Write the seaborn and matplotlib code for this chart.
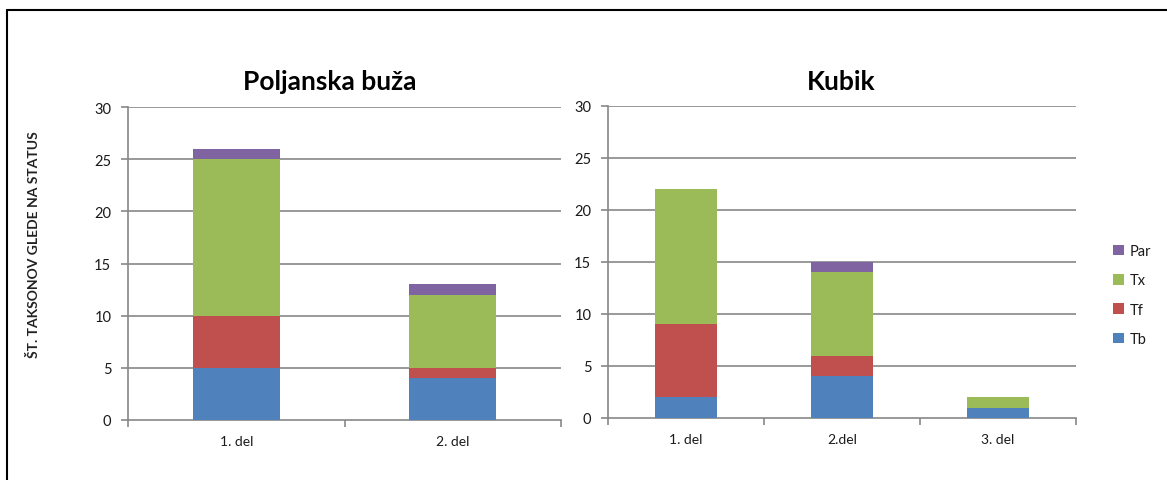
import matplotlib
matplotlib.use("Agg")
import matplotlib.pyplot as plt
import seaborn as sns
import pandas as pd
import numpy as np
from matplotlib.lines import Line2D
from matplotlib.patches import Patch

# ---- data ----
series = ["Tb", "Tf", "Tx", "Par"]
colors = {"Tb": "#4F81BD", "Tf": "#C0504D", "Tx": "#9BBB59", "Par": "#8064A2"}

poljanska_cats = ["1. del", "2. del"]
poljanska_tb = [5, 4]
poljanska_tf = [5, 1]
poljanska_tx = [15, 7]
poljanska_par = [1, 1]

kubik_cats = ["1. del", "2.del", "3. del"]
kubik_tb = [2, 4, 1]
kubik_tf = [7, 2, 0]
kubik_tx = [13, 8, 1]
kubik_par = [0, 1, 0]

yticks = [0, 5, 10, 15, 20, 25, 30]

sns.set_theme(style="white")
plt.rcParams["font.family"] = ["Lato", "DejaVu Sans"]

fig = plt.figure(figsize=(11.67, 4.81), dpi=100)
W, H = 1167, 481

def px_axes(x0, x1, ytop, ybot):
    return fig.add_axes([x0 / W, (H - ybot) / H, (x1 - x0) / W, (ybot - ytop) / H])

ax1 = px_axes(128, 561, 108, 421)
ax2 = px_axes(608, 1076, 107, 419)

grid_col = "#888888"
txt_col = "#1a1a1a"

def draw(ax, cats, tb, tf, tx, par):
    vals = {"Tb": np.array(tb), "Tf": np.array(tf), "Tx": np.array(tx), "Par": np.array(par)}
    cum = {}
    run = np.zeros(len(cats))
    for s in series:
        run = run + vals[s]
        cum[s] = run.copy()
    for s in reversed(series):
        df = pd.DataFrame({"cat": cats, "val": cum[s]})
        sns.barplot(data=df, x="cat", y="val", order=cats, color=colors[s],
                    width=0.4, ax=ax, saturation=1, edgecolor="none", linewidth=0, zorder=3)
    ax.set_ylim(0, 30)
    ax.set_xlim(-0.5, len(cats) - 0.5)
    ax.set_yticks(yticks)
    ax.set_yticklabels([str(v) for v in yticks], fontsize=10.5, color=txt_col)
    ax.set_xticks(range(len(cats)))
    ax.set_xticklabels(cats, fontsize=10, color=txt_col)
    ax.set_xticks(np.arange(-0.5, len(cats), 1.0), minor=True)
    ax.tick_params(axis="x", which="major", length=0, pad=11)
    ax.tick_params(axis="x", which="minor", length=5, width=1.2, color=grid_col, direction="out", bottom=True)
    ax.tick_params(axis="y", which="major", length=5, width=1.2, color=grid_col, direction="out", left=True, pad=7)
    for y in yticks[1:]:
        ax.axhline(y, color=grid_col, linewidth=1.2, zorder=1)
    for sp in ["top", "right"]:
        ax.spines[sp].set_visible(False)
    for sp in ["left", "bottom"]:
        ax.spines[sp].set_color(grid_col)
        ax.spines[sp].set_linewidth(1.2)
    ax.set_xlabel("")
    ax.set_ylabel("")
    ax.set_facecolor("white")

draw(ax1, poljanska_cats, poljanska_tb, poljanska_tf, poljanska_tx, poljanska_par)
draw(ax2, kubik_cats, kubik_tb, kubik_tf, kubik_tx, kubik_par)

fig.text(330 / W, 1 - 82 / H, "Poljanska buža", ha="center", va="center",
         fontsize=19, fontweight="bold", color="black")
fig.text(841 / W, 1 - 82 / H, "Kubik", ha="center", va="center",
         fontsize=19, fontweight="bold", color="black")
fig.text(34 / W, 1 - 245 / H, "ŠT. TAKSONOV GLEDE NA STATUS", rotation=90,
         ha="center", va="center", fontsize=10, fontweight="bold", color="#222222")

handles = [Patch(facecolor=colors[s], edgecolor="none") for s in reversed(series)]
leg = fig.legend(handles, list(reversed(series)), loc="center left",
                 bbox_to_anchor=(1100 / W, 1 - 296 / H), frameon=False,
                 fontsize=10.5, handlelength=0.75, handleheight=0.75,
                 labelspacing=1.05, handletextpad=0.4)
for t in leg.get_texts():
    t.set_color(txt_col)

# figure border (top and left)
fig.add_artist(Line2D([7 / W, 7 / W], [0, 1 - 11 / H], color="black", linewidth=1.5, transform=fig.transFigure))
fig.add_artist(Line2D([7 / W, 1], [1 - 11 / H, 1 - 11 / H], color="black", linewidth=1.5, transform=fig.transFigure))

fig.savefig("out.png", dpi=100, facecolor="white")
